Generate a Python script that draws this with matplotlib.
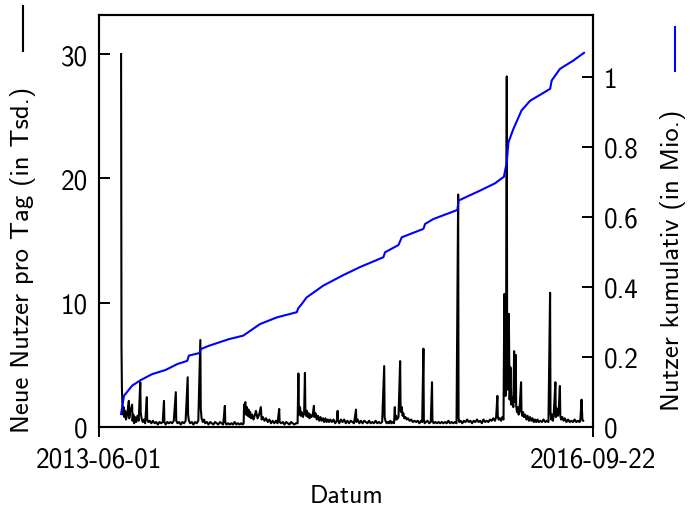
import pandas as pd
import matplotlib
matplotlib.use("Agg")
import matplotlib.pyplot as plt
from matplotlib.lines import Line2D

# Daten
start = "2013-06-01"
x_ticks = ["2013-06-01", "2016-09-22"]

# neue Nutzer pro Tag (Tage seit Start, Wert in Tsd.)
tage = [54, 55, 56, 57, 58, 59, 60, 62, 64, 66, 69, 73, 74, 76, 81, 82, 84, 86, 88, 91, 94, 97,
        101, 102, 104, 107, 110, 113, 117, 118, 121, 124, 128, 132, 136, 140, 144, 148, 152, 156, 159, 160, 163, 167, 171, 175, 179, 183,
        188, 189, 192, 196, 200, 204, 208, 212, 217, 218, 220, 223, 227, 231, 235, 239, 243,
        248, 249, 251, 254, 257, 260, 264, 268, 272, 276, 280, 284, 288, 292, 296, 300, 304,
        308, 309, 312, 316, 320, 324, 328, 332, 336, 340, 344, 348, 352, 354, 355, 356, 358, 360, 362, 364, 366, 368, 370, 372, 375, 378, 381, 384,
        388, 392, 396, 398, 401, 405, 409, 413, 417, 421, 425, 429, 433, 437, 441, 442, 446, 450, 454, 458, 462, 466, 470, 474, 478, 482, 486,
        488, 489, 490, 492, 494, 496, 499, 502, 504, 505, 507, 509, 511, 513, 515, 517, 520, 523, 526, 527, 530, 533, 536, 539, 542, 545, 548, 551, 554, 557, 560, 563, 566, 570, 574, 578, 582,
        584, 585, 588, 592, 596, 600, 604, 608, 612, 616, 620, 624, 629, 630, 633, 637, 641, 645, 649, 653, 657, 661, 665, 669, 673, 677, 681, 685, 689, 693,
        698, 699, 701, 704, 707, 710, 713, 716, 719, 722, 724, 725, 727, 729, 733, 737, 738, 739, 741, 743, 745, 747, 750, 753, 756, 760, 764, 768, 772, 776, 780, 784, 788,
        791, 794, 795, 797, 800, 804, 808, 812, 815, 816, 819, 823, 827, 831, 835, 839, 843, 847, 851, 855, 859, 863, 867, 871, 875,
        879, 880, 882, 885, 889, 893, 897, 901, 905, 909, 913, 917, 921, 925, 929, 933, 937, 941, 945, 949, 953, 957, 961, 965, 969, 972, 975, 976, 978, 981, 984, 987, 990,
        992, 993, 994, 995, 996, 998, 999, 1001, 1003, 1005, 1007, 1009, 1011, 1014, 1016, 1017, 1020, 1021, 1023, 1025, 1027, 1029, 1033, 1034, 1036, 1038, 1040, 1043, 1046, 1049, 1052, 1055, 1058, 1061, 1064, 1067, 1070, 1073, 1076, 1080, 1084, 1088, 1092, 1096, 1100,
        1104, 1105, 1107, 1109, 1111, 1113, 1117, 1118, 1120, 1123, 1125, 1128, 1129, 1131, 1134, 1137, 1140, 1144, 1148, 1152, 1156, 1160, 1164, 1168, 1172, 1176, 1178, 1181, 1183, 1185]
neu = [30.0, 6.5, 3.2, 2.0, 1.4, 1.0, 1.6, 0.8, 1.3, 0.6, 1.0, 2.1, 0.7, 1.2, 1.8, 0.5, 1.0, 0.3, 0.8, 0.4, 0.9, 0.5,
       3.6, 1.2, 0.7, 0.4, 0.6, 0.3, 2.4, 0.6, 0.4, 0.5, 0.3, 0.5, 0.3, 0.4, 0.2, 0.4, 0.3, 0.4, 2.1, 0.4, 0.2, 0.4, 0.3, 0.4, 0.3, 0.5,
       2.8, 0.5, 0.3, 0.4, 0.2, 0.4, 0.3, 0.5, 4.0, 1.0, 0.5, 0.3, 0.4, 0.2, 0.4, 0.3, 0.5,
       7.0, 1.5, 0.7, 0.4, 0.6, 0.3, 0.4, 0.2, 0.4, 0.3, 0.2, 0.4, 0.3, 0.2, 0.4, 0.3, 0.2,
       1.7, 0.4, 0.2, 0.3, 0.2, 0.3, 0.2, 0.4, 0.2, 0.3, 0.2, 0.3, 0.2, 0.3, 1.8, 1.2, 2.0, 1.0, 1.6, 0.9, 1.4, 0.8, 1.2, 0.7, 1.0, 0.6, 0.9, 1.3,
       0.7, 1.0, 1.6, 0.6, 0.8, 0.5, 0.7, 0.4, 0.6, 0.3, 0.5, 0.3, 0.5, 0.3, 1.45, 0.4, 0.3, 0.4, 0.2, 0.4, 0.3, 0.2, 0.4, 0.3, 0.2, 0.3, 0.3,
       4.3, 1.8, 1.0, 1.6, 0.9, 1.2, 0.8, 1.1, 4.35, 1.5, 0.9, 1.3, 0.8, 1.1, 0.7, 1.0, 0.8, 1.0, 1.7, 0.8, 1.1, 0.6, 0.9, 0.5, 0.8, 0.5, 0.7, 0.4, 0.7, 0.4, 0.6, 0.4, 0.6, 0.4, 0.6, 0.3, 0.5,
       1.3, 0.5, 0.3, 0.6, 0.4, 0.6, 0.3, 0.5, 0.3, 0.5, 0.4, 0.3, 1.4, 0.4, 0.6, 0.3, 0.5, 0.3, 0.5, 0.4, 0.3, 0.5, 0.3, 0.4, 0.3, 0.5, 0.3, 0.4, 0.3, 0.4,
       4.9, 0.8, 0.5, 0.3, 0.4, 0.3, 0.5, 0.3, 0.4, 0.3, 1.6, 0.6, 0.9, 0.6, 0.8, 5.3, 1.8, 1.2, 1.6, 0.9, 1.1, 0.7, 0.8, 0.6, 0.7, 0.5, 0.6, 0.4, 0.5, 0.4, 0.5, 0.3, 0.5,
       0.4, 6.3, 0.6, 0.3, 0.4, 0.5, 0.3, 0.4, 3.6, 0.5, 0.3, 0.4, 0.3, 0.4, 0.3, 0.4, 0.3, 0.4, 0.3, 0.5, 0.3, 0.4, 0.3, 0.4, 0.3,
       18.7, 0.7, 0.4, 0.5, 0.3, 0.5, 0.4, 0.6, 0.4, 0.5, 0.3, 0.5, 0.4, 0.6, 0.4, 0.5, 0.3, 0.6, 0.4, 0.5, 0.4, 0.6, 0.5, 0.7, 0.5, 0.8, 2.5, 0.9, 0.6, 0.7, 0.5, 0.8, 0.6,
       10.7, 3.0, 10.2, 2.5, 4.0, 28.2, 4.0, 3.0, 9.1, 2.2, 4.8, 1.8, 2.4, 1.6, 6.1, 2.0, 5.8, 1.7, 1.2, 1.6, 1.0, 1.3, 3.6, 1.2, 0.9, 1.2, 0.8, 1.0, 0.6, 0.9, 0.5, 0.8, 0.5, 0.7, 0.4, 0.6, 0.4, 0.6, 0.4, 0.5, 0.4, 0.6, 0.4, 0.5, 0.4,
       10.8, 1.2, 0.6, 1.0, 0.5, 1.1, 3.6, 0.8, 1.5, 0.9, 1.3, 3.3, 0.9, 0.6, 0.8, 0.5, 0.7, 0.4, 0.6, 0.4, 0.5, 0.4, 0.6, 0.4, 0.5, 0.4, 0.5, 2.2, 0.6, 0.5]

# Nutzer kumulativ (Tage seit Start, Wert in Mio.)
kum_tage = [54, 61, 81, 102, 130, 163, 192, 216, 220, 245, 250, 269, 318, 353, 394, 435, 484, 488, 496, 508,
            549, 598, 639, 696, 700, 733, 741, 794, 798, 818, 877, 880, 932, 969, 991, 998, 1002, 1014,
            1034, 1055, 1104, 1108, 1128, 1161, 1187]
kum = [0.037, 0.089, 0.118, 0.134, 0.151, 0.163, 0.180, 0.189, 0.204, 0.211, 0.223, 0.232, 0.251, 0.261, 0.294,
       0.313, 0.328, 0.340, 0.351, 0.370, 0.404, 0.434, 0.457, 0.485, 0.499, 0.520, 0.542, 0.566, 0.580, 0.594,
       0.620, 0.647, 0.675, 0.696, 0.715, 0.756, 0.813, 0.851, 0.904, 0.932, 0.966, 0.990, 1.023, 1.047, 1.069]

links_ticks = [0, 10, 20, 30]
links_labels = ["0", "10", "20", "30"]
rechts_ticks = [0, 0.2, 0.4, 0.6, 0.8, 1.0]
rechts_labels = ["0", "0.2", "0.4", "0.6", "0.8", "1"]

plt.rcParams['font.family'] = ['cmss10', 'DejaVu Sans']
plt.rcParams['axes.unicode_minus'] = False

t0 = pd.Timestamp(start)
daten = t0 + pd.to_timedelta(tage, unit="D")
kum_daten = t0 + pd.to_timedelta(kum_tage, unit="D")

fig = plt.figure(figsize=(6.9, 5.1), dpi=100)
ax = fig.add_axes([0.1435, 0.1608, 0.7159, 0.8078])
ax.plot(daten, neu, color="black", lw=1.5)
ax.set_xlim(pd.Timestamp(x_ticks[0]), pd.Timestamp(x_ticks[1]))
ax.set_ylim(0, 33.14)
ax.set_xticks([pd.Timestamp(d) for d in x_ticks], x_ticks)
ax.set_yticks(links_ticks, links_labels)
ax.tick_params(axis="y", direction="in", length=8, width=1.4, pad=8, labelsize=19.5)
ax.tick_params(axis="x", direction="out", length=7, width=1.4, pad=7, labelsize=19.5)
ax.set_xlabel("Datum", fontsize=18.5, labelpad=9)

ax2 = ax.twinx()
ax2.plot(kum_daten, kum, color="blue", lw=1.5)
ax2.set_ylim(0, 1.177)
ax2.set_yticks(rechts_ticks, rechts_labels)
ax2.tick_params(axis="y", direction="in", length=8, width=1.4, pad=8, labelsize=19.5)

for a in (ax, ax2):
    for s in a.spines.values():
        s.set_linewidth(1.5)

# Achsentitel mit Linienmuster (wie gnuplot-Key)
fig.text(0.033, 0.49, "Neue Nutzer pro Tag (in Tsd.)", rotation=90,
         ha="center", va="center", fontsize=19.2)
fig.add_artist(Line2D([0.0333, 0.0333], [0.898, 0.986], color="black", lw=1.5,
                      transform=fig.transFigure))
fig.text(0.976, 0.49, "Nutzer kumulativ (in Mio.)", rotation=90,
         ha="center", va="center", fontsize=19.2)
fig.add_artist(Line2D([0.978, 0.978], [0.859, 0.945], color="blue", lw=1.5,
                      transform=fig.transFigure))

fig.savefig("out.png", dpi=100)
